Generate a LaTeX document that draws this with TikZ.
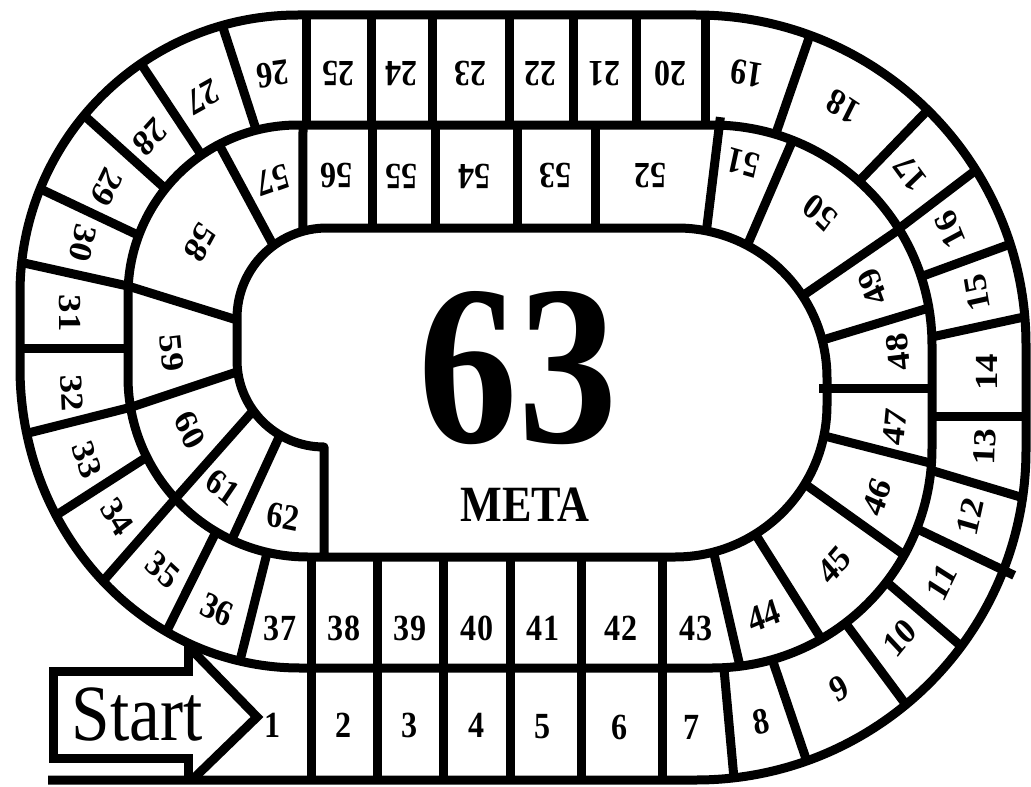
\documentclass[tikz,border=0pt]{standalone}
\usepackage{fontspec}
\setmainfont{Liberation Serif}
\usetikzlibrary{calc}
\tikzset{
  boardline/.style={line width=9bp, line join=round, line cap=butt},
  divline/.style={line width=9bp, line join=round},
  arrowbox/.style={line width=9bp, line join=miter},
  numlab/.style={font=\bfseries\fontsize{37}{40}\selectfont, inner sep=0pt, outer sep=0pt},
}
\newcommand{\cellnum}[4]{%
  \begin{scope}[shift={(#1,#2)}, xscale=0.87]
    \node[numlab, rotate=#3, transform shape] (n#4) at (0,0) {#4};
  \end{scope}}

\begin{document}
\begin{tikzpicture}[x=1bp, y=-1bp]
\fill[white] (0,0) rectangle (1031,787);
\useasboundingbox (0,0) rectangle (1031,787);
% arc centres
\coordinate (OBR) at (696,450);
\coordinate (OTR) at (696,345);
\coordinate (OTL) at (298,293);
\coordinate (MBR) at (712,448);
\coordinate (MTR) at (712,345);
\coordinate (MTL) at (298,295);
\coordinate (MBL) at (308,377);
\coordinate (CBR) at (675,405);
\coordinate (CTR) at (677,378);
\coordinate (CTL) at (327,318);
\coordinate (CBL) at (324,360);

% spiral track
\draw[boardline] (48,780) -- (696,780)
  arc[start angle=90, end angle=0, radius=330] -- (1026,345)
  arc[start angle=0, end angle=-90, radius=330] -- (298,15)
  arc[start angle=-90, end angle=-180, radius=278] -- (20,368)
  arc[start angle=180, end angle=90, x radius=280, y radius=300] -- (712,668)
  arc[start angle=90, end angle=0, radius=220] -- (932,345)
  arc[start angle=0, end angle=-90, radius=220] -- (298,125)
  arc[start angle=-90, end angle=-180, radius=170] -- (128,377)
  arc[start angle=180, end angle=90, radius=180] -- (675,557)
  arc[start angle=90, end angle=0, radius=152] -- (827,378)
  arc[start angle=0, end angle=-90, radius=150] -- (327,228)
  arc[start angle=-90, end angle=-180, radius=90] -- (237,360)
  arc[start angle=180, end angle=90, radius=87] -- (324,557);

% start arrow
\draw[arrowbox] (192,780) -- (257,717) -- (188,646);
\draw[arrowbox] (188,646) -- (188,671) -- (53,671) -- (53,758) -- (188,758) -- (188,780);

% straight bottom dividers (both bands)
\foreach \x in {311,377,443,510,581,662} \draw[divline] (\x,557) -- (\x,780);

% band 1, right
\draw[divline] ($(MBR)+(86.9:220)$) -- ($(OBR)+(83.4:330)$);
\draw[divline] ($(MBR)+(74.1:220)$) -- ($(OBR)+(70.4:330)$);
\draw[divline] ($(MBR)+(52.7:220)$) -- ($(OBR)+(50.5:330)$);
\draw[divline] ($(MBR)+(37.5:220)$) -- ($(OBR)+(36.5:330)$);
\draw[divline] ($(MBR)+(21.5:220)$) -- ($(OBR)+(21.5:342)$);
\draw[divline] ($(MBR)+(5.8:220)$) -- ($(OBR)+(8.3:330)$);
\draw[divline] (932,416) -- (1026,416);
\draw[divline] ($(MTR)+(-2.1:220)$) -- ($(OTR)+(-4.9:330)$);
\draw[divline] ($(MTR)+(-18.1:220)$) -- ($(OTR)+(-17.8:330)$);
\draw[divline] ($(MTR)+(-31.9:220)$) -- ($(OTR)+(-32:330)$);
\draw[divline] ($(MTR)+(-48.1:220)$) -- ($(OTR)+(-45.4:330)$);
\draw[divline] ($(MTR)+(-73.2:220)$) -- ($(OTR)+(-69.8:330)$);
% band 1, top
\foreach \x in {705,636,573,509,432,371,306} \draw[divline] (\x,15) -- (\x,125);
% band 1, left
\draw[divline] ($(MTL)+(-104.2:170)$) -- ($(OTL)+(-105.8:278)$);
\draw[divline] ($(MTL)+(-124.6:170)$) -- ($(OTL)+(-124.4:278)$);
\draw[divline] ($(MTL)+(-141.3:170)$) -- ($(OTL)+(-140.3:278)$);
\draw[divline] ($(MTL)+(-159.5:170)$) -- ($(OTL)+(-158:278)$);
\draw[divline] (237,320) -- ($(MTL)+(-177:170)$) -- ($(OTL)+(-173.7:278)$);
\draw[divline] (20,348) -- (128,348);
\draw[divline] ($(CBL)+(172.3:87)$) -- ($(MBL)+(170.3:180)$) -- (26.7,433.4);
\draw[divline] ($(MBL)+(153.6:180)$) -- (56.1,515.3);
\draw[divline] ($(CBL)+(144.4:87)$) -- ($(MBL)+(137.5:180)$) -- (103,581.2);
\draw[divline] ($(MBL)+(120.7:180)$) -- (166.4,631.7);
\draw[divline] ($(MBL)+(103.1:180)$) -- (239.9,661);

% band 2
\draw[divline] ($(CBR)+(75.3:152)$) -- ($(MBR)+(82.7:220)$);
\draw[divline] ($(CBR)+(58.1:152)$) -- ($(MBR)+(60.2:220)$);
\draw[divline] ($(CBR)+(31.3:152)$) -- ($(MBR)+(29.1:220)$);
\draw[divline] ($(CBR)+(11.7:152)$) -- ($(MBR)+(4:220)$);
\draw[divline] (819,388) -- (932,388);
\draw[divline] ($(CTR)+(-14.6:150)$) -- ($(MTR)+(-9.7:220)$);
\draw[divline] ($(CTR)+(-33.2:150)$) -- ($(MTR)+(-31.7:220)$);
\draw[divline] ($(CTR)+(-62.1:150)$) -- ($(MTR)+(-68.5:220)$);
\draw[divline] ($(CTR)+(-78.7:150)$) -- ($(MTR)+(-87.9:228)$);
\foreach \x in {595,517,435,372} \draw[divline] (\x,125) -- (\x,228);
\draw[divline] (303,125) -- ($(CTL)+(-105.5:90)$);
\draw[divline] ($(CTL)+(-126.5:90)$) -- ($(MTL)+(-117.7:170)$);
\draw[divline] ($(CBL)+(120.4:87)$) -- ($(MBL)+(115.1:180)$);

% numbers
\cellnum{273}{725}{0}{1}
\cellnum{344}{725}{0}{2}
\cellnum{410}{725}{0}{3}
\cellnum{477}{725}{0}{4}
\cellnum{543}{727}{0}{5}
\cellnum{620}{727}{0}{6}
\cellnum{692}{727}{0}{7}
\cellnum{761}{722}{12}{8}
\cellnum{839}{688}{30}{9}
\cellnum{900}{638}{47}{10}
\cellnum{942}{582}{61}{11}
\cellnum{970}{517}{76}{12}
\cellnum{985}{447}{88}{13}
\cellnum{987}{372}{90}{14}
\cellnum{977}{293}{101}{15}
\cellnum{950}{230}{115}{16}
\cellnum{910}{173}{130}{17}
\cellnum{843}{107}{150}{18}
\cellnum{747}{73}{171}{19}
\cellnum{670}{74}{180}{20}
\cellnum{604}{74}{180}{21}
\cellnum{540}{74}{180}{22}
\cellnum{470}{74}{180}{23}
\cellnum{401}{74}{180}{24}
\cellnum{338}{74}{180}{25}
\cellnum{273}{74}{187}{26}
\cellnum{203}{97}{206}{27}
\cellnum{150}{137}{224}{28}
\cellnum{107}{187}{241}{29}
\cellnum{83}{243}{257}{30}
\cellnum{70}{313}{270}{31}
\cellnum{72}{393}{273}{32}
\cellnum{87}{460}{289}{33}
\cellnum{117}{517}{304}{34}
\cellnum{163}{570}{321}{35}
\cellnum{217}{610}{336}{36}
\cellnum{280}{628}{0}{37}
\cellnum{344}{628}{0}{38}
\cellnum{410}{628}{0}{39}
\cellnum{477}{628}{0}{40}
\cellnum{543}{628}{0}{41}
\cellnum{621}{628}{0}{42}
\cellnum{696}{628}{0}{43}
\cellnum{764}{616}{20}{44}
\cellnum{834}{565}{45}{45}
\cellnum{877}{497}{69}{46}
\cellnum{895}{427}{84}{47}
\cellnum{898}{352}{96}{48}
\cellnum{873}{287}{113}{49}
\cellnum{820}{213}{140}{50}
\cellnum{743}{163}{166}{51}
\cellnum{650}{176}{180}{52}
\cellnum{555}{176}{180}{53}
\cellnum{474}{176}{180}{54}
\cellnum{401}{176}{180}{55}
\cellnum{336}{176}{180}{56}
\cellnum{273}{180}{197}{57}
\cellnum{200}{243}{238}{58}
\cellnum{172}{353}{276}{59}
\cellnum{190}{430}{296}{60}
\cellnum{223}{487}{322}{61}
\cellnum{283}{517}{350}{62}

% texts
\begin{scope}[shift={(137,714)}, xscale=0.87]
  \node[inner sep=0pt, font=\fontsize{80}{80}\selectfont, transform shape] (start) at (0,0) {Start};
\end{scope}
\begin{scope}[shift={(518,368)}, xscale=0.87]
  \node[inner sep=0pt, font=\bfseries\fontsize{229}{229}\selectfont, transform shape] (goal) at (0,0) {63};
\end{scope}
\begin{scope}[shift={(525,505)}, xscale=0.87]
  \node[inner sep=0pt, font=\bfseries\fontsize{51}{51}\selectfont, transform shape] (meta) at (0,0) {META};
\end{scope}
\end{tikzpicture}
\end{document}
